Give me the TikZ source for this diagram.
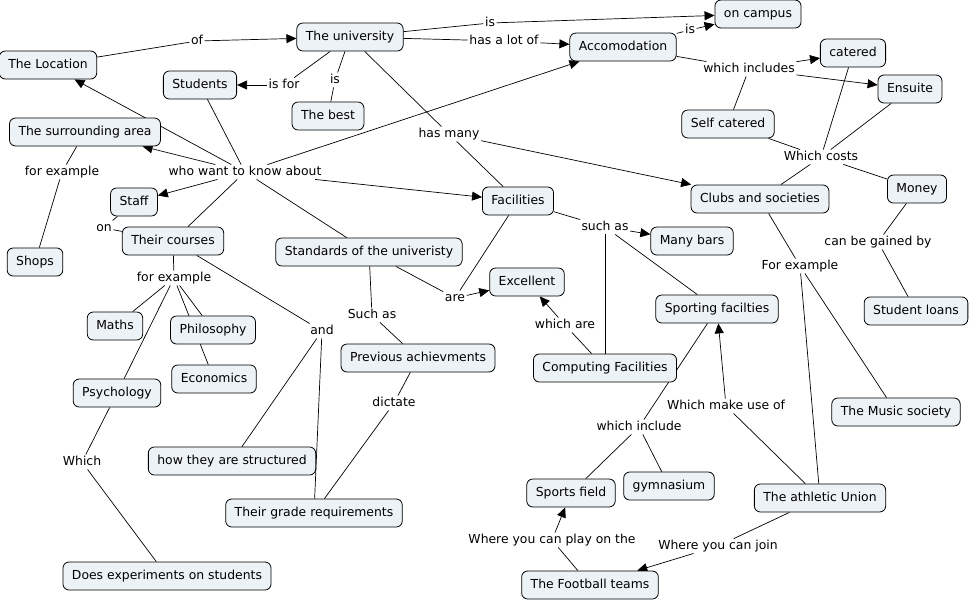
\documentclass[tikz,border=0pt]{standalone}
\usepackage{fontspec}
\setmainfont{DejaVu Sans}
\usetikzlibrary{arrows.meta}
\definecolor{boxfill}{RGB}{236,242,245}
\pgfdeclarelayer{bg}
\pgfsetlayers{bg,main}
\begin{document}
\begin{tikzpicture}[x=1pt,y=-1pt,
  font=\fontsize{12.4}{14}\selectfont,
  concept/.style={draw=black, line width=0.8pt, fill=boxfill, rounded corners=6pt, minimum height=28pt, inner xsep=9pt, text height=9pt, text depth=2.5pt},
  lab/.style={inner sep=1.5pt, text height=9pt, text depth=2.5pt},
  link/.style={line width=0.7pt},
  arr/.style={link, -{Triangle[length=10pt,width=9pt]}}
]
\useasboundingbox (0,0) rectangle (969,600);
% concepts
\node[concept] (loc) at (48,65) {The Location};
\node[concept] (univ) at (350,37) {The university};
\node[concept] (camp) at (758,14) {on campus};
\node[concept] (acc) at (623,47) {Accomodation};
\node[concept] (cat) at (853,53) {catered};
\node[concept] (ens) at (910,89) {Ensuite};
\node[concept] (stu) at (200,85) {Students};
\node[concept] (best) at (328,116) {The best};
\node[concept] (surr) at (85,132) {The surrounding area};
\node[concept] (self) at (728,124) {Self catered};
\node[concept] (money) at (917,189) {Money};
\node[concept] (clubs) at (760,199) {Clubs and societies};
\node[concept] (fac) at (518,201) {Facilities};
\node[concept] (staff) at (134,202) {Staff};
\node[concept] (courses) at (173,241) {Their courses};
\node[concept] (std) at (369,252) {Standards of the univeristy};
\node[concept] (shops) at (35,262) {Shops};
\node[concept] (bars) at (692,241) {Many bars};
\node[concept] (exc) at (527,282) {Excellent};
\node[concept] (sport) at (717,309) {Sporting facilties};
\node[concept] (loans) at (916,311) {Student loans};
\node[concept] (maths) at (115,326) {Maths};
\node[concept] (phil) at (213,330) {Philosophy};
\node[concept] (prev) at (418,358) {Previous achievments};
\node[concept] (comp) at (605,368) {Computing Facilities};
\node[concept] (econ) at (214,379) {Economics};
\node[concept] (psych) at (117,393) {Psychology};
\node[concept] (music) at (896,412) {The Music society};
\node[concept] (struct) at (232,461) {how they are structured};
\node[concept] (field) at (571,493) {Sports field};
\node[concept] (gym) at (669,486) {gymnasium};
\node[concept] (au) at (820,498) {The athletic Union};
\node[concept] (grade) at (314,513) {Their grade requirements};
\node[concept] (exp) at (167,576) {Does experiments on students};
\node[concept] (foot) at (590,585) {The Football teams};
% linking phrases
\node[lab] (lof) at (197,41) {of};
\node[lab] (lis1) at (490,23) {is};
\node[lab] (llot) at (504,41) {has a lot of};
\node[lab] (lis2) at (690,30) {is};
\node[lab] (lisfor) at (284,85) {is for};
\node[lab] (lis3) at (335,80) {is};
\node[lab] (lincl) at (749,69) {which includes};
\node[lab] (lmany) at (449,134) {has many};
\node[lab] (lwho) at (245,172) {who want to know about};
\node[lab] (lfe1) at (62,172) {for example};
\node[lab] (lcosts) at (821,157) {Which costs};
\node[lab] (lon) at (104,228) {on};
\node[lab] (lsuch) at (605,227) {such as};
\node[lab] (lfe2) at (174,278) {for example};
\node[lab] (lgain) at (878,242) {can be gained by};
\node[lab] (lFE) at (800,266) {For example};
\node[lab] (lare) at (455,298) {are};
\node[lab] (lSuch) at (372,315) {Such as};
\node[lab] (lwhichare) at (565,325) {which are};
\node[lab] (land) at (322,331) {and};
\node[lab] (ldict) at (394,403) {dictate};
\node[lab] (luse) at (726,406) {Which make use of};
\node[lab] (lincl2) at (639,427) {which include};
\node[lab] (lwhich) at (82,462) {Which};
\node[lab] (lplay) at (552,540) {Where you can play on the};
\node[lab] (ljoin) at (718,546) {Where you can join};
% connectors
\begin{pgfonlayer}{bg}
\draw[link] (loc) -- (lof); \draw[arr] (lof) -- (univ);
\draw[link] (univ) -- (lis1); \draw[arr] (lis1) -- (camp);
\draw[link] (univ) -- (llot); \draw[arr] (llot) -- (acc);
\draw[link] (acc) -- (lis2); \draw[arr] (lis2) -- (camp);
\draw[link] (univ) -- (lisfor); \draw[arr] (lisfor) -- (stu);
\draw[link] (univ) -- (lis3); \draw[link] (lis3) -- (best);
\draw[link] (univ) -- (lmany); \draw[link] (lmany) -- (fac); \draw[arr] (lmany) -- (clubs);
\draw[link] (stu) -- (lwho);
\draw[arr] (lwho) -- (loc);
\draw[arr] (lwho) -- (surr);
\draw[arr] (lwho) -- (staff);
\draw[arr] (lwho) -- (acc);
\draw[arr] (lwho) -- (fac);
\draw[link] (lwho) -- (courses);
\draw[link] (lwho) -- (std);
\draw[link] (surr) -- (lfe1); \draw[link] (lfe1) -- (shops);
\draw[link] (staff) -- (lon); \draw[link] (lon) -- (courses);
\draw[link] (courses) -- (lfe2);
\draw[link] (lfe2) -- (maths); \draw[link] (lfe2) -- (phil);
\draw[link] (lfe2) -- (econ); \draw[link] (lfe2) -- (psych);
\draw[link] (courses) -- (land); \draw[link] (land) -- (struct); \draw[link] (land) -- (grade);
\draw[link] (psych) -- (lwhich); \draw[link] (lwhich) -- (exp);
\draw[link] (std) -- (lare); \draw[link] (fac) -- (lare); \draw[arr] (lare) -- (exc);
\draw[link] (std) -- (lSuch); \draw[link] (lSuch) -- (prev);
\draw[link] (prev) -- (ldict); \draw[link] (ldict) -- (grade);
\draw[link] (fac) -- (lsuch); \draw[arr] (lsuch) -- (bars);
\draw[link] (lsuch) -- (comp); \draw[link] (lsuch) -- (sport);
\draw[link] (comp) -- (lwhichare); \draw[arr] (lwhichare) -- (exc);
\draw[link] (sport) -- (lincl2); \draw[link] (lincl2) -- (field); \draw[link] (lincl2) -- (gym);
\draw[link] (au) -- (luse); \draw[arr] (luse) -- (sport);
\draw[link] (clubs) -- (lFE); \draw[link] (lFE) -- (music); \draw[link] (lFE) -- (au);
\draw[link] (au) -- (ljoin); \draw[arr] (ljoin) -- (foot);
\draw[link] (foot) -- (lplay); \draw[arr] (lplay) -- (field);
\draw[link] (acc) -- (lincl); \draw[arr] (lincl) -- (cat); \draw[arr] (lincl) -- (ens);
\draw[link] (lincl) -- (self);
\draw[link] (self) -- (lcosts); \draw[link] (cat) -- (lcosts); \draw[link] (ens) -- (lcosts);
\draw[link] (lcosts) -- (clubs); \draw[link] (lcosts) -- (money);
\draw[link] (money) -- (lgain); \draw[link] (lgain) -- (loans);
\end{pgfonlayer}
\end{tikzpicture}
\end{document}
